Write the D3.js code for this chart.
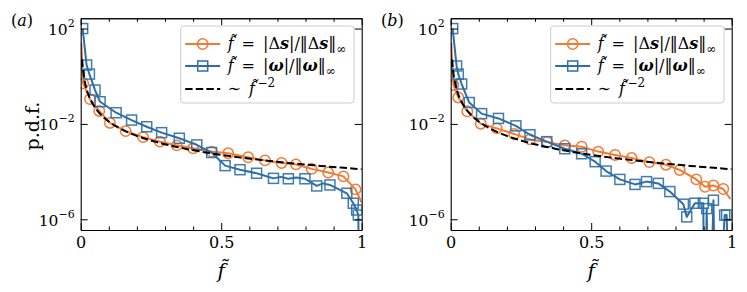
<!DOCTYPE html>
<html>
<head>
<meta charset="utf-8">
<script src="https://cdn.jsdelivr.net/npm/d3@7/dist/d3.min.js"></script>
<style>
  body { margin: 0; background: #fff; }
  text { font-family: "DejaVu Serif", "Liberation Serif", serif; fill: #000; }
</style>
</head>
<body>
<div id="chart"></div>
<script>
// ---- data (pdf values, 0 = empty bin) ----
// panel (a)
const aDsX   = [0.002, 0.009, 0.033, 0.066, 0.104, 0.16, 0.222, 0.282, 0.342, 0.40, 0.466, 0.525, 0.596, 0.656, 0.715, 0.766, 0.822, 0.881, 0.935, 0.978, 1.0];
const aDsPdf = [25, 0.5, 0.11, 0.035, 0.011, 5.0e-3, 2.8e-3, 1.8e-3, 1.26e-3, 9.5e-4, 6.9e-4, 5.9e-4, 4.0e-4, 2.95e-4, 2.3e-4, 2.0e-4, 1.3e-4, 9.1e-5, 6.3e-5, 1.8e-5, 5.0e-6];
const aDsMarks = [1, 2, 3, 4, 5, 6, 7, 8, 9, 10, 11, 12, 13, 14, 15, 16, 17, 18, 19];

const aOmX   = [0.007, 0.021, 0.031, 0.051, 0.069, 0.126, 0.181, 0.235, 0.288, 0.351, 0.413, 0.466, 0.514, 0.567, 0.626, 0.686, 0.712, 0.739, 0.768, 0.798, 0.84, 0.862, 0.887, 0.947, 0.97, 0.982, 0.988, 0.993, 1.0];
const aOmPdf = [100, 2.95, 1.23, 0.263, 0.0851, 0.0295, 0.0145, 7.6e-3, 4.3e-3, 2.5e-3, 1.32e-3, 6.3e-4, 1.78e-4, 1.2e-4, 8.5e-5, 5.2e-5, 6.0e-5, 5.0e-5, 5.6e-5, 5.0e-5, 2.5e-5, 3.2e-5, 2.75e-5, 1.23e-5, 4.7e-6, 2.45e-6, 1.5e-6, 0, 0];
const aOmMarks = [0, 1, 2, 3, 4, 5, 6, 7, 8, 9, 10, 11, 12, 13, 14, 15, 17, 19, 20, 22, 23, 24, 25, 26];

// panel (b)
const bDsX   = [0.002, 0.0095, 0.027, 0.059, 0.107, 0.164, 0.226, 0.282, 0.343, 0.406, 0.466, 0.525, 0.585, 0.644, 0.707, 0.766, 0.815, 0.874, 0.905, 0.935, 0.97, 0.995];
const bDsPdf = [25, 0.43, 0.129, 0.034, 0.0102, 6.5e-3, 3.8e-3, 2.24e-3, 1.74e-3, 1.26e-3, 1.1e-3, 6.9e-4, 5.0e-4, 3.7e-4, 2.5e-4, 1.95e-4, 1.17e-4, 4.7e-5, 2.3e-5, 2.6e-5, 1.86e-5, 7.1e-6];
const bDsMarks = [1, 2, 3, 4, 5, 6, 7, 8, 9, 10, 11, 12, 13, 14, 15, 16, 17, 18, 19, 20];

const bOmX   = [0.007, 0.021, 0.027, 0.039, 0.066, 0.11, 0.17, 0.232, 0.282, 0.342, 0.406, 0.466, 0.514, 0.553, 0.602, 0.656, 0.697, 0.739, 0.78, 0.828, 0.840, 0.869, 0.899, 0.903, 0.911, 0.92, 0.935, 0.945, 0.975, 0.982, 0.997];
const bOmPdf = [100, 2.7, 1.23, 0.47, 0.079, 0.027, 0.017, 8.3e-3, 3.5e-3, 1.8e-3, 9.1e-4, 5.6e-4, 2.6e-4, 1.05e-4, 4.7e-5, 2.9e-5, 3.8e-5, 3.2e-5, 1.45e-5, 4.3e-6, 1.26e-6, 4.7e-6, 4.7e-6, 0, 2.8e-6, 0, 6.3e-6, 0, 1.5e-6, 1.5e-6, 0];
const bOmMarks = [0, 1, 2, 3, 4, 5, 6, 7, 8, 9, 10, 11, 12, 13, 14, 15, 16, 17, 18, 19, 20, 21, 22, 24, 26, 28, 29];

// reference power law  ~ f^-2
const refCoef = 1.26e-4;
const refExp = -2;
const refRange = [0.005, 1];

const xMajor = [0, 0.5, 1];
const xMinor = [0.1, 0.2, 0.3, 0.4, 0.6, 0.7, 0.8, 0.9];
const yMajorExp = [2, -2, -6];
const panelTags = ['a', 'b'];

const ORANGE = '#f07a36';
const BLUE = '#2e6ea6';

const width = 747;
const height = 292;

const svg = d3.select('#chart').append('svg')
  .attr('width', width)
  .attr('height', height)
  .attr('viewBox', `0 0 ${width} ${height}`);

const panels = [
  { tag: panelTags[0], dx: 0, ds: [aDsX, aDsPdf, aDsMarks], om: [aOmX, aOmPdf, aOmMarks] },
  { tag: panelTags[1], dx: 370, ds: [bDsX, bDsPdf, bDsMarks], om: [bOmX, bOmPdf, bOmMarks] }
];

const plotL = 80.7, plotR = 361.7, plotT = 18.3, plotB = 230;

// legend label pieces
const legendLabels = [
  [['f\u0303', 'i'], ['\u2002=\u2002|\u0394', ''], ['s', 'bi'], ['|/\u2016\u0394', ''], ['s', 'bi'], ['\u2016', ''], ['\u221e', 'sub']],
  [['f\u0303', 'i'], ['\u2002=\u2002|', ''], ['\u03c9', 'bi'], ['|/\u2016', ''], ['\u03c9', 'bi'], ['\u2016', ''], ['\u221e', 'sub']],
  [['\u223c\u2002', ''], ['f\u0303', 'i'], ['\u22122', 'sup']]
];

function addPieces(text, pieces) {
  pieces.forEach(([t, st]) => {
    const ts = text.append('tspan').text(t);
    if (st === 'i' || st === 'bi') ts.attr('font-style', 'italic');
    if (st === 'bi') ts.attr('font-weight', 'bold');
    if (st === 'sub') ts.attr('font-size', '12px').attr('dy', 4);
    if (st === 'sup') ts.attr('font-size', '12px').attr('dy', -7).attr('dx', 2.5);
  });
}

panels.forEach((p, pi) => {
  const g = svg.append('g').attr('transform', `translate(${p.dx},0)`);

  const x = d3.scaleLinear().domain([0, 1]).range([plotL, plotR]);
  const y = d3.scaleLog().domain([Math.pow(10, -6.45), Math.pow(10, 2.43)]).range([plotB, plotT]);
  const yv = v => (v > 0 ? y(v) : y(1e-12));

  const clipId = `clip-${pi}`;
  g.append('clipPath').attr('id', clipId)
    .append('rect')
    .attr('x', plotL).attr('y', plotT)
    .attr('width', plotR - plotL).attr('height', plotB - plotT);

  const plot = g.append('g').attr('clip-path', `url(#${clipId})`);

  const line = d3.line().x(d => x(d[0])).y(d => yv(d[1]));

  // orange series
  const dsPts = p.ds[0].map((v, i) => [v, p.ds[1][i]]);
  plot.append('path')
    .attr('d', line(dsPts))
    .attr('fill', 'none').attr('stroke', ORANGE).attr('stroke-width', 2)
    .attr('stroke-linejoin', 'round');
  plot.selectAll('.circ')
    .data(p.ds[2].map(i => dsPts[i]))
    .enter().append('circle')
    .attr('cx', d => x(d[0])).attr('cy', d => yv(d[1]))
    .attr('r', 5.2)
    .attr('fill', 'none').attr('stroke', ORANGE).attr('stroke-width', 1.5);

  // blue series
  const omPts = p.om[0].map((v, i) => [v, p.om[1][i]]);
  plot.append('path')
    .attr('d', line(omPts))
    .attr('fill', 'none').attr('stroke', BLUE).attr('stroke-width', 2)
    .attr('stroke-linejoin', 'round');
  plot.selectAll('.sq')
    .data(p.om[2].map(i => omPts[i]))
    .enter().append('rect')
    .attr('x', d => x(d[0]) - 5).attr('y', d => yv(d[1]) - 5)
    .attr('width', 10).attr('height', 10)
    .attr('fill', 'none').attr('stroke', BLUE).attr('stroke-width', 1.5)
    .attr('stroke-opacity', 0.9);

  // reference guide ~ f^-2
  const refPts = d3.range(0, 201).map(k => {
    const f = refRange[0] * Math.pow(refRange[1] / refRange[0], k / 200);
    return [f, refCoef * Math.pow(f, refExp)];
  });
  plot.append('path')
    .attr('d', line(refPts))
    .attr('fill', 'none').attr('stroke', '#000').attr('stroke-width', 2)
    .attr('stroke-dasharray', '7.4,3.2');

  // axes, ticks pointing inward
  const bottom = g.append('g').attr('transform', `translate(0,${plotB})`)
    .call(d3.axisBottom(x).tickValues(xMajor).tickSizeInner(-7).tickSizeOuter(0).tickPadding(7)
      .tickFormat(d => (d === 0.5 ? '0.5' : d3.format('d')(d))));
  g.append('g').attr('transform', `translate(0,${plotB})`)
    .call(d3.axisBottom(x).tickValues(xMinor).tickSizeInner(-3.5).tickSizeOuter(0).tickFormat(''));
  g.append('g').attr('transform', `translate(0,${plotT})`)
    .call(d3.axisTop(x).tickValues(xMajor).tickSizeInner(-7).tickSizeOuter(0).tickFormat(''));
  g.append('g').attr('transform', `translate(0,${plotT})`)
    .call(d3.axisTop(x).tickValues(xMinor).tickSizeInner(-3.5).tickSizeOuter(0).tickFormat(''));

  const yTicks = yMajorExp.map(e => Math.pow(10, e));
  const left = g.append('g').attr('transform', `translate(${plotL},0)`)
    .call(d3.axisLeft(y).tickValues(yTicks).tickSizeInner(-7).tickSizeOuter(0).tickFormat(''));
  g.append('g').attr('transform', `translate(${plotR},0)`)
    .call(d3.axisRight(y).tickValues(yTicks).tickSizeInner(-7).tickSizeOuter(0).tickFormat(''));

  g.selectAll('.domain, .tick line').attr('stroke', '#000').attr('stroke-width', 1);
  g.selectAll('.domain').attr('stroke-width', 1.1);

  bottom.selectAll('text')
    .attr('font-size', '16px')
    .attr('font-family', '"DejaVu Serif", serif')
    .attr('fill', '#000');

  // y tick labels as 10^n
  left.selectAll('.tick').each(function(d) {
    const t = d3.select(this).append('text')
      .attr('x', -6).attr('y', 6)
      .attr('text-anchor', 'end')
      .attr('font-size', '15.5px')
      .attr('fill', '#000');
    t.append('tspan').text('10');
    t.append('tspan').attr('dy', -8).attr('font-size', '11px')
      .text(d3.format('d')(Math.round(Math.log10(d))).replace('-', '\u2212'));
  });

  // axis label f~
  g.append('text')
    .attr('x', (plotL + plotR) / 2).attr('y', 278)
    .attr('text-anchor', 'middle')
    .attr('font-size', '20px').attr('font-style', 'italic')
    .text('f\u0303');

  // panel tag
  g.append('text')
    .attr('x', 11).attr('y', 26)
    .attr('font-size', '16px')
    .call(t => {
      t.append('tspan').text('(');
      t.append('tspan').attr('font-style', 'italic').text(p.tag);
      t.append('tspan').text(')');
    });

  // legend
  const lg = g.append('g').attr('transform', 'translate(180.7,26)');
  lg.append('rect')
    .attr('width', 173.3).attr('height', 77)
    .attr('rx', 3)
    .attr('fill', '#fff').attr('fill-opacity', 0.8)
    .attr('stroke', '#cccccc').attr('stroke-width', 1);
  const rows = [
    { color: ORANGE, dash: null, marker: 'circle', y: 18 },
    { color: BLUE, dash: null, marker: 'square', y: 40 },
    { color: '#000', dash: '7.4,3.2', marker: null, y: 63 }
  ];
  rows.forEach((r, i) => {
    lg.append('line')
      .attr('x1', 4.5).attr('x2', 39.5).attr('y1', r.y).attr('y2', r.y)
      .attr('stroke', r.color).attr('stroke-width', 2)
      .attr('stroke-dasharray', r.dash);
    if (r.marker === 'circle') {
      lg.append('circle').attr('cx', 22).attr('cy', r.y).attr('r', 5.2)
        .attr('fill', 'none').attr('stroke', r.color).attr('stroke-width', 1.5);
    } else if (r.marker === 'square') {
      lg.append('rect').attr('x', 17).attr('y', r.y - 5).attr('width', 10).attr('height', 10)
        .attr('fill', 'none').attr('stroke', r.color).attr('stroke-width', 1.5);
    }
    const t = lg.append('text')
      .attr('x', 47).attr('y', r.y + 5)
      .attr('font-size', '16px');
    addPieces(t, legendLabels[i]);
  });
});

// shared y label
svg.append('text')
  .attr('transform', 'translate(39,126) rotate(-90)')
  .attr('text-anchor', 'middle')
  .attr('font-size', '19px')
  .text('p.d.f.');
</script>
</body>
</html>
